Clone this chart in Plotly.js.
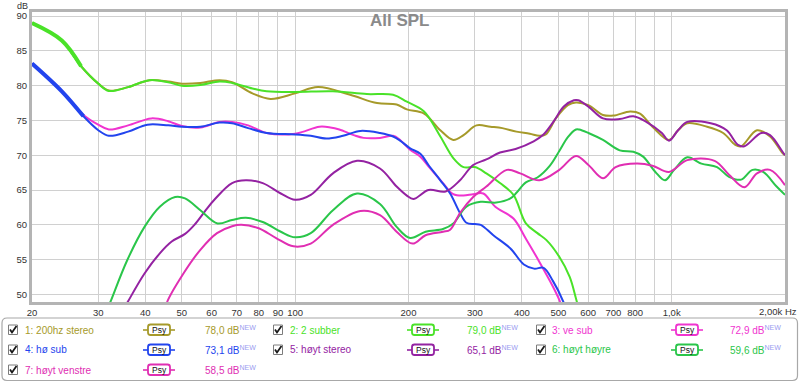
<!DOCTYPE html>
<html><head><meta charset="utf-8">
<script src="https://cdn.plot.ly/plotly-3.0.1.min.js"></script>
<style>html,body{margin:0;padding:0;background:#fff}#chart{width:800px;height:383px}</style>
</head><body><div id="chart"></div>
<script>
// ---- data (Hz, dB) ----
const f1 = [20,24,27,30,32,36,41,46,50,56,63,68,77,86,100,115,140,165,186,198,220,243,263,280,303,330,355,387,420,445,463,494,530,557,601,657,700,776,824,889,984,1040,1100,1242,1370,1475,1530,1685,1825,1970,2000];
const d1 = [89.0,86.5,82.8,80.3,79.3,79.8,80.8,80.6,80.3,80.4,80.8,80.5,78.9,78.1,78.9,79.8,78.7,77.5,77.3,76.6,76.0,73.6,72.2,72.9,74.3,74.1,73.9,73.4,73.1,72.8,73.0,75.4,77.2,77.6,77.2,75.8,75.7,76.3,76.0,74.1,72.2,73.6,74.6,74.1,73.2,71.5,71.3,73.6,72.7,70.3,70.0];
const f2 = [20,24,27,30,32,36,41,46,50,56,63,68,77,84,100,126,155,182,198,220,243,263,280,300,322,350,380,410,440,465,503,536,557,575];
const d2 = [89.0,86.5,82.8,80.3,79.25,79.8,80.8,80.5,80.0,80.1,80.6,80.4,79.6,79.2,79.1,79.2,78.8,78.7,77.7,76.3,72.7,69.6,68.3,68.3,67.4,66.0,64.3,60.2,58.8,57.8,55.4,52.5,49.4,46.5];
const f3 = [20,24,27.4,30,32,36,41.5,46,50,56,63,68,75,84,100,116,124,131,143,152,168,182,190,202,215,226,247,263,280,297,316,340,380,410,445,484,503,520];
const d3 = [83.2,79.3,75.8,74.4,73.7,74.3,75.3,74.9,74.2,74.0,74.8,74.8,74.3,73.2,73.1,74.1,74.0,73.7,72.9,72.5,72.5,72.8,72.2,70.8,69.8,68.4,66.0,64.4,64.2,64.4,64.5,62.6,60.9,58.0,54.7,51.1,49.2,47.0];
const f4 = [20,24,27.4,30,32,36,40.5,46,50,56,63,68,75,84,100,110,121,134,149,168,182,190,202,215,226,243,258,274,285,300,311,336,373,405,431,457,484,515,530];
const d4 = [83.2,79.2,75.6,73.6,72.8,73.4,74.4,74.3,74.1,74.1,74.7,74.6,73.9,73.2,73.0,72.8,72.4,72.8,73.5,73.2,72.7,72.1,71.0,70.2,68.6,66.4,64.5,61.7,60.3,60.1,60.0,58.5,56.6,54.3,53.7,53.8,51.9,49.0,47.0];
const f5 = [35,36,39.8,43.7,47,51,54,57.5,61,68,74,82,91.6,100,110,126,146,168,186,198,206,226,251,274,297,322,350,385,430,455,485,517,550,565,601,657,728,791,856,942,984,1040,1100,1270,1400,1500,1560,1730,1825,1970,2000];
const d5 = [47.8,49.0,53.0,55.9,57.6,58.7,60.0,61.9,63.6,66.0,66.4,66.0,64.5,63.6,64.3,67.4,69.2,68.1,65.5,64.2,63.7,65.0,64.8,66.4,68.6,69.4,70.4,70.9,72.0,72.9,74.8,77.0,77.9,77.9,77.0,75.3,75.2,75.6,74.8,73.2,72.1,73.6,74.8,74.6,73.6,71.5,71.3,73.2,72.9,70.5,70.0];
const f6 = [31.5,32.3,35.8,39.8,43.7,48,51,56,62.2,68,74,82,91.6,100,110,126,146,168,186,202,222,247,263,285,311,342,373,387,410,440,475,503,530,557,568,601,657,728,791,840,905,960,1015,1100,1200,1320,1420,1530,1640,1750,1900,2000];
const d6 = [47.5,48.9,54.9,59.7,62.6,64.0,63.8,62.1,60.2,60.7,61.0,60.4,59.0,58.2,58.8,62.1,64.5,63.0,59.7,58.1,59.0,59.4,60.2,62.6,63.3,63.2,63.8,64.6,66.1,66.8,68.5,70.6,72.6,73.7,73.7,73.2,72.2,70.7,70.5,69.8,67.6,66.4,67.9,69.7,68.8,68.3,66.9,66.5,67.9,67.6,65.5,64.3];
const f7 = [45.2,45.7,50.5,56,62,68,72,80,89,99,110,126,149,168,186,205,222,247,258,274,297,322,365,396,445,503,557,601,657,710,808,889,984,1100,1300,1420,1560,1685,1825,2000];
const d7 = [47.8,48.9,53.0,56.4,58.8,59.8,60.0,59.5,58.1,56.9,57.3,60.0,62.0,61.4,59.0,57.3,58.5,59.0,59.3,61.7,64.0,65.5,67.9,67.4,66.4,67.9,69.9,68.6,66.7,68.3,68.8,68.5,67.6,69.3,69.2,67.2,65.4,67.4,67.9,65.7];

const seriesNames = ['1: 200hz stereo','2: 2 subber','3: ve sub','4: hø sub','5: høyt stereo','6: høyt høyre','7: høyt venstre'];
const avgLevels = ['78,0','79,0','72,9','73,1','65,1','59,6','58,5'];
const xTickVals = [20,30,40,50,60,70,80,90,100,200,300,400,500,600,700,800,900,1000,2000];
const xTickText = ['20','30','40','50','60','70','80','90','100','200','300','400','500','600','700','800',' ','1,0k',' '];
const yTickVals = [50,55,60,65,70,75,80,85,90];

// ---- style ----
const colors = ['#a69a2a','#4ae228','#f034d0','#2244ee','#9422a2','#2ac64a','#e02eb2'];
const FONT = 'Liberation Sans, Arial, sans-serif';
const W=800,H=383,ML=32,MR=15,MT=12,MB=81;
const PW=W-ML-MR, PH=H-MT-MB;
const X = px => (px-ML)/PW;
const Y = py => (H-MB-py)/PH;

const freqs=[f1,f2,f3,f4,f5,f6,f7], dbs=[d1,d2,d3,d4,d5,d6,d7];
const traces = [];
freqs.forEach((f,i)=>{
  traces.push({x:f,y:dbs[i],type:'scatter',mode:'lines',line:{color:colors[i],width:2,shape:'spline',smoothing:1},hoverinfo:'skip'});
  if(i===1||i===3){ // dense low-frequency section drawn heavier
    traces.push({x:f.slice(0,3),y:dbs[i].slice(0,3),type:'scatter',mode:'lines',line:{color:colors[i],width:4,shape:'spline',smoothing:1},hoverinfo:'skip'});
  }
});

function rr(x0,y0,x1,y1,r){
  const rx=r/PW, ry=r/PH;
  const a=X(x0), b=X(x1), t=Y(y0), bo=Y(y1);
  return `M${a+rx},${t} L${b-rx},${t} Q${b},${t} ${b},${t-ry} L${b},${bo+ry} Q${b},${bo} ${b-rx},${bo} L${a+rx},${bo} Q${a},${bo} ${a},${bo+ry} L${a},${t-ry} Q${a},${t} ${a+rx},${t} Z`;
}

const shapes = [];
const annotations = [];
// legend frame
shapes.push({type:'path',xref:'paper',yref:'paper',path:rr(2,318,797.5,380.5,5),line:{color:'#a8a8a8',width:1.2},fillcolor:'rgba(0,0,0,0)'});

const colCheck=[13,278,541], colLabel=[23,287.5,550], colPsy=[159,423,687], colVal=[203,465,728];
const rowY=[330,350,370];
seriesNames.forEach((nm,i)=>{
  const r=Math.floor(i/3), c=i%3, cy=rowY[r];
  const cx=colCheck[c];
  shapes.push({type:'rect',xref:'paper',yref:'paper',x0:X(cx-4.5),x1:X(cx+4.5),y0:Y(cy-5),y1:Y(cy+4.5),line:{color:'#7c7c7c',width:1},fillcolor:'#fff'});
  shapes.push({type:'path',xref:'paper',yref:'paper',path:`M${X(cx-3)},${Y(cy-0.5)} L${X(cx-1)},${Y(cy+2.5)} L${X(cx+3.5)},${Y(cy-4)}`,line:{color:'#1a1a1a',width:1.8}});
  annotations.push({xref:'paper',yref:'paper',x:X(colLabel[c]),y:Y(cy),xanchor:'left',yanchor:'middle',text:nm,showarrow:false,font:{family:FONT,size:10,color:colors[i]}});
  const px=colPsy[c];
  shapes.push({type:'line',xref:'paper',yref:'paper',x0:X(px-16),x1:X(px+16),y0:Y(cy),y1:Y(cy),line:{color:colors[i],width:1.6}});
  shapes.push({type:'path',xref:'paper',yref:'paper',path:rr(px-11,cy-5.5,px+11,cy+5,2.5),line:{color:colors[i],width:1.8},fillcolor:'#fff'});
  annotations.push({xref:'paper',yref:'paper',x:X(px),y:Y(cy),xanchor:'center',yanchor:'middle',text:'Psy',showarrow:false,font:{family:FONT,size:8.5,color:'#111'}});
  annotations.push({xref:'paper',yref:'paper',x:X(colVal[c]),y:Y(cy),xanchor:'left',yanchor:'middle',text:avgLevels[i]+' dB<sup><span style="color:#9a9cf0">NEW</span></sup>',showarrow:false,font:{family:FONT,size:10,color:colors[i]}});
});

annotations.push({xref:'paper',yref:'paper',x:X(399.5),y:Y(21),xanchor:'center',yanchor:'middle',text:'<b>All SPL</b>',showarrow:false,font:{family:FONT,size:17,color:'#8a8a8a'}});
annotations.push({xref:'paper',yref:'paper',x:X(798.5),y:Y(311),xanchor:'right',yanchor:'middle',text:'2,00k Hz',showarrow:false,font:{family:FONT,size:9.5,color:'#333'}});
annotations.push({xref:'paper',yref:'paper',x:X(22),y:Y(6),xanchor:'center',yanchor:'middle',text:'dB',showarrow:false,font:{family:FONT,size:9,color:'#333'}});

const layout = {
  width:W,height:H,margin:{l:ML,r:MR,t:MT,b:MB,pad:0},
  paper_bgcolor:'#fff',plot_bgcolor:'#fff',showlegend:false,
  font:{family:FONT,size:10,color:'#333'},
  xaxis:{type:'log',range:[Math.log10(20),Math.log10(2000)],tickmode:'array',tickvals:xTickVals,ticktext:xTickText,
    showgrid:true,gridcolor:'#d0d0d0',gridwidth:1,showline:true,mirror:true,linecolor:'#b4b4b4',linewidth:3,
    ticks:'',zeroline:false,tickfont:{family:FONT,size:9.5,color:'#333'},fixedrange:true},
  yaxis:{range:[48.9,90.6],tickmode:'array',tickvals:yTickVals,
    showgrid:true,gridcolor:'#d0d0d0',gridwidth:1,showline:true,mirror:true,linecolor:'#b4b4b4',linewidth:3,
    ticks:'',zeroline:false,tickfont:{family:FONT,size:9.5,color:'#333'},fixedrange:true},
  shapes:shapes,annotations:annotations
};
Plotly.newPlot('chart',traces,layout,{displayModeBar:false,staticPlot:true});
</script></body></html>
